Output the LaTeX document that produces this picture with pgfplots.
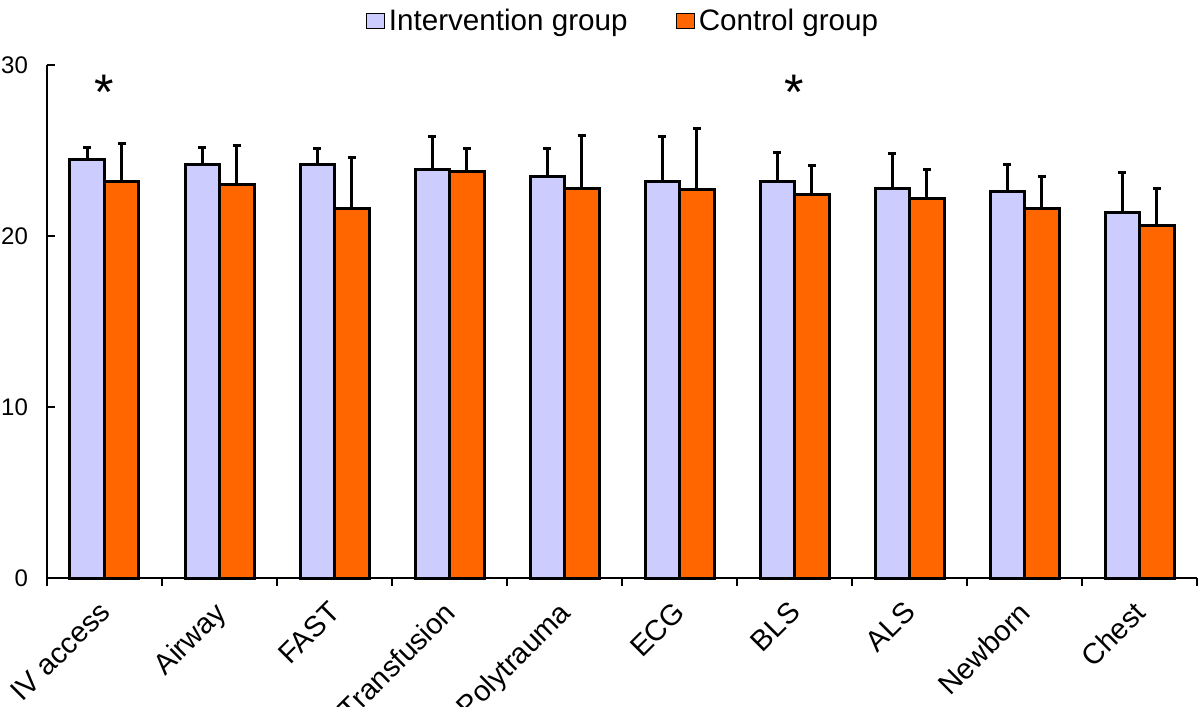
\documentclass[border=0pt]{standalone}
\usepackage{fontspec}
\setmainfont{Liberation Sans}
\usepackage{pgfplots}
\pgfplotsset{compat=1.18}
\usepackage{pgfplotstable}
\definecolor{interv}{HTML}{CCCCFF}
\definecolor{ctrl}{HTML}{FF6600}

\pgfplotstableread{
x y e
0 24.5 0.7
1 24.2 1.0
2 24.2 0.9
3 23.9 1.9
4 23.5 1.6
5 23.2 2.6
6 23.2 1.7
7 22.8 2.0
8 22.6 1.6
9 21.4 2.3
}\intervention

\pgfplotstableread{
x y e
0 23.2 2.2
1 23.0 2.3
2 21.6 3.0
3 23.8 1.3
4 22.8 3.1
5 22.7 3.6
6 22.4 1.7
7 22.2 1.7
8 21.6 1.9
9 20.6 2.2
}\control

\begin{document}
\begin{tikzpicture}
\begin{axis}[
  scale only axis,
  width=575pt, height=256.5pt,
  xmin=-0.5, xmax=9.5, ymin=0, ymax=30,
  ybar=0pt, bar width=0.3,
  axis lines*=left,
  axis line style={line width=1.4pt},
  clip=false,
  xtick={0,...,9},
  xticklabels={IV access,Airway,FAST,Transfusion,Polytrauma,ECG,BLS,ALS,Newborn,Chest},
  minor xtick={-0.5,0.5,...,9.5},
  major x tick style={draw=none},
  minor x tick style={line width=1.4pt, black},
  minor tick length=4pt,
  major tick length=4pt,
  ytick={0,10,20,30},
  y tick style={line width=1.4pt, black},
  xticklabel style={rotate=45, anchor=north east, xshift=-3.9pt, yshift=1.1pt, font=\fontsize{14.5}{16}\selectfont},
  yticklabel style={font=\fontsize{12}{14}\selectfont, xshift=-6pt},
  /pgf/number format/assume math mode=true,
  legend columns=2,
  legend style={draw=none, fill=none, at={(0.5017,1.0858)}, anchor=center,
    font=\fontsize{14.8}{16}\selectfont,
    nodes={inner xsep=2pt},
    /tikz/every even column/.append style={column sep=22pt}},
  legend image code/.code={\draw[#1, line width=0.6pt] (0pt,-3.75pt) rectangle (9pt,3.75pt);},
]
\addplot[fill=interv, draw=black, line width=1.5pt,
  error bars/.cd, y dir=plus, y explicit,
  error bar style={line width=1.5pt, black},
  error mark options={rotate=90, mark size=2pt, line width=1.5pt, black}]
  table[x=x, y=y, y error=e] {\intervention};
\addlegendentry{Intervention group}
\addplot[fill=ctrl, draw=black, line width=1.5pt,
  error bars/.cd, y dir=plus, y explicit,
  error bar style={line width=1.5pt, black},
  error mark options={rotate=90, mark size=2pt, line width=1.5pt, black}]
  table[x=x, y=y, y error=e] {\control};
\addlegendentry{Control group}
\node[anchor=base, inner sep=0pt, font=\fontsize{25}{25}\selectfont] at (axis cs:0,27.4) {*};
\node[anchor=base, inner sep=0pt, font=\fontsize{25}{25}\selectfont] at (axis cs:6,27.4) {*};
\end{axis}
\pgfresetboundingbox
\path[use as bounding box] (-23.5pt,-64.5pt) rectangle (576.5pt,289pt);
\end{tikzpicture}
\end{document}
